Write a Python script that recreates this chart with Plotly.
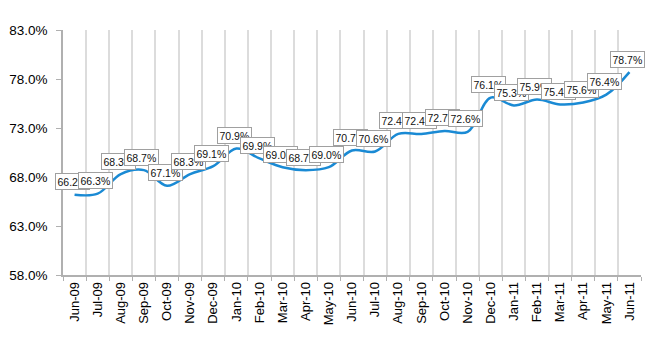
import plotly.graph_objects as go

# Monthly share, Jun-09 to Jun-11
months = ["Jun-09", "Jul-09", "Aug-09", "Sep-09", "Oct-09", "Nov-09", "Dec-09",
          "Jan-10", "Feb-10", "Mar-10", "Apr-10", "May-10", "Jun-10", "Jul-10",
          "Aug-10", "Sep-10", "Oct-10", "Nov-10", "Dec-10", "Jan-11", "Feb-11",
          "Mar-11", "Apr-11", "May-11", "Jun-11"]
share = [66.2, 66.3, 68.3, 68.7, 67.1, 68.3, 69.1,
         70.9, 69.9, 69.0, 68.7, 69.0, 70.7, 70.6,
         72.4, 72.4, 72.7, 72.6, 76.1, 75.3, 75.9,
         75.4, 75.6, 76.4, 78.7]
y_ticks = [58, 63, 68, 73, 78, 83]

fig = go.Figure()
fig.add_trace(go.Scatter(
    x=months, y=share, mode="lines",
    line=dict(color="#1a8ad4", width=2.5, shape="spline", smoothing=1.0),
    hoverinfo="skip", showlegend=False,
))

# Boxed value labels just above each point
for m, v in zip(months, share):
    fig.add_annotation(
        x=m, y=v, text=f"{v:.1f}%", showarrow=False,
        yshift=13, xshift=-2,
        font=dict(family="Liberation Sans, Arial", size=10.5, color="#111111"),
        bgcolor="white", bordercolor="#a0a0a0", borderwidth=1, borderpad=1.5,
    )

fig.update_layout(
    width=650, height=350,
    margin=dict(l=58, r=9, t=30, b=75),
    paper_bgcolor="white", plot_bgcolor="white",
    font=dict(family="Liberation Sans, Arial", color="#000000"),
)
fig.update_xaxes(
    type="category", tickangle=-90, tickson="boundaries",
    showgrid=True, gridcolor="#dcdcdc", gridwidth=2,
    showline=True, linecolor="#b0b0b0", linewidth=1.5,
    ticks="outside", ticklen=4, tickcolor="#b0b0b0",
    tickfont=dict(size=13), range=[-0.5, len(months) - 0.5],
)
fig.update_yaxes(
    range=[58, 83], tickvals=y_ticks,
    ticktext=[f"{t:.1f}%" for t in y_ticks],
    showgrid=False, zeroline=False,
    showline=True, linecolor="#b0b0b0", linewidth=1.5,
    ticks="outside", ticklen=5, tickcolor="#b0b0b0",
    tickfont=dict(size=13.5), ticklabelstandoff=6,
)

fig.write_html("out.html")
